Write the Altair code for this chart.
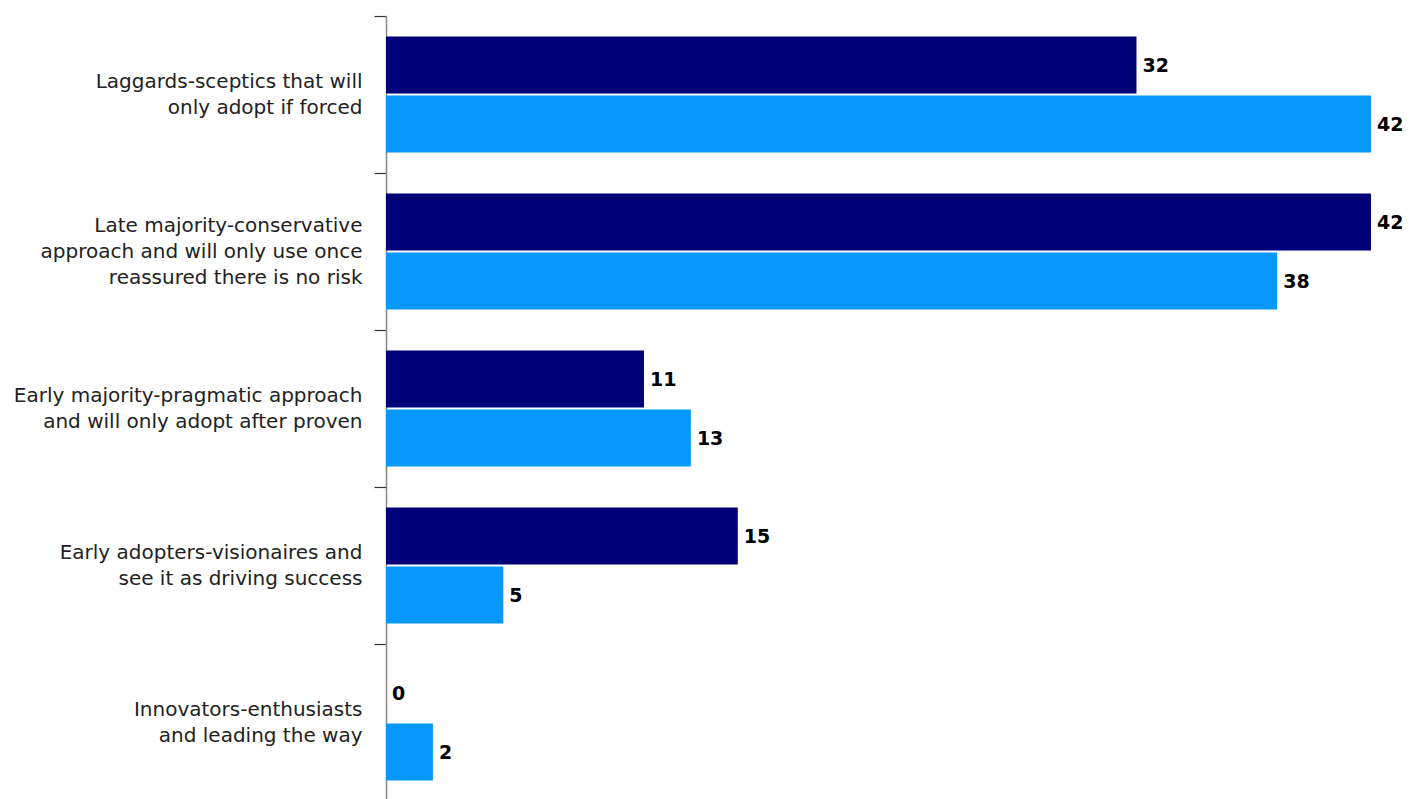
import altair as alt
import pandas as pd

categories = [
    "Laggards-sceptics that will\nonly adopt if forced",
    "Late majority-conservative\napproach and will only use once\nreassured there is no risk",
    "Early majority-pragmatic approach\nand will only adopt after proven",
    "Early adopters-visionaires and\nsee it as driving success",
    "Innovators-enthusiasts\nand leading the way",
]
series_names = ["Group 1", "Group 2"]
values_1 = [32, 42, 11, 15, 0]
values_2 = [42, 38, 13, 5, 2]
colors = ["#000078", "#0798FA"]

rows = []
for c, a, b in zip(categories, values_1, values_2):
    rows.append({"category": c, "series": series_names[0], "value": a})
    rows.append({"category": c, "series": series_names[1], "value": b})
df = pd.DataFrame(rows)

y_enc = alt.Y(
    "category:N",
    sort=categories,
    title=None,
    scale=alt.Scale(paddingInner=0, paddingOuter=0),
    axis=alt.Axis(
        bandPosition=0,
        labelExpr="split(datum.label, '\\n')",
        labelLineHeight=26,
        labelFontSize=20,
        labelFont="DejaVu Sans",
        labelColor="#222222",
        labelPadding=12,
        labelLimit=500,
        labelOffset={
            "condition": {"test": "length(split(datum.label, '\\n')) > 2", "value": -26},
            "value": -13,
        },
        tickSize=12,
        tickColor="#333333",
        tickWidth=1.2,
        domainColor="#888888",
        domainWidth=1.5,
        labelBaseline="middle",
        labelAlign="right",
    ),
)
yoff = alt.YOffset(
    "series:N",
    sort=series_names,
    scale=alt.Scale(paddingInner=2 / 59, paddingOuter=41 / 118),
)
x_enc = alt.X("value:Q", scale=alt.Scale(domain=[0, 42], nice=False), axis=None)

bars = alt.Chart(df).mark_bar().encode(
    x=x_enc,
    y=y_enc,
    yOffset=yoff,
    color=alt.Color("series:N", scale=alt.Scale(domain=series_names, range=colors), legend=None),
)
labels = alt.Chart(df).mark_text(
    align="left", baseline="middle", dx=6, dy=1, font="DejaVu Sans", fontWeight="bold", fontSize=19, color="#000000"
).encode(
    x=x_enc,
    y=y_enc,
    yOffset=yoff,
    text="value:Q",
)

chart = (
    (bars + labels)
    .properties(
        width=985,
        height=785,
        autosize=alt.AutoSizeParams(type="none"),
        padding={"left": 378, "top": 8, "right": 40, "bottom": 0},
    )
    .configure_view(stroke=None)
)
chart.save("out.html", embed_options={"renderer": "svg", "actions": False})
